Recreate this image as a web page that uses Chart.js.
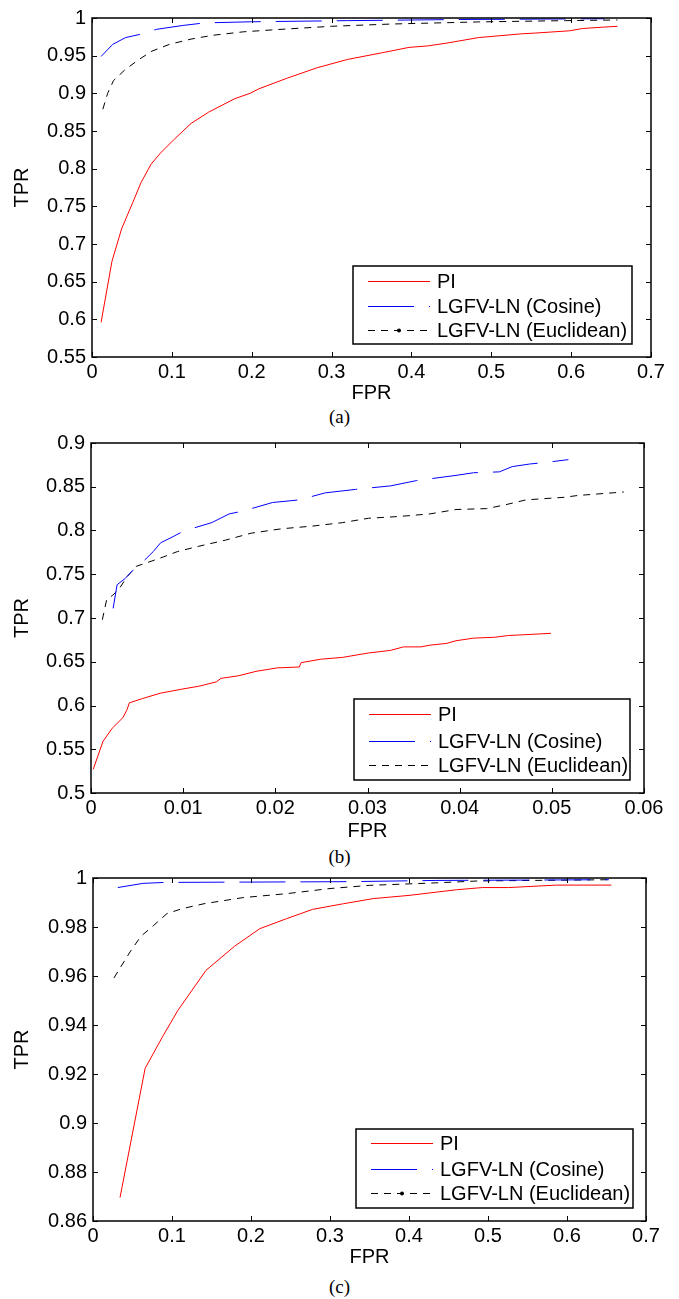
<!DOCTYPE html>
<html lang="en">
<head>
<meta charset="UTF-8">
<title>ROC curves (a) (b) (c)</title>
<script src="https://cdn.jsdelivr.net/npm/chart.js"></script>
<style>
  body { margin: 0; background: #fff; }
  .wrap { position: relative; width: 679px; height: 1299px; }
  .wrap canvas { position: absolute; left: 0; }
  .cap { position: absolute; left: 0; width: 679px; text-align: center;
         font-family: "Liberation Serif", "Times New Roman", serif; font-size: 19px; line-height: 21px; }
</style>
</head>
<body>
<div class="wrap">
  <canvas id="chartA" width="679" height="405" style="top:0px"></canvas>
  <div class="cap" style="top:406px">(a)</div>
  <canvas id="chartB" width="679" height="423" style="top:420px"></canvas>
  <div class="cap" style="top:846px">(b)</div>
  <canvas id="chartC" width="679" height="409" style="top:860px"></canvas>
  <div class="cap" style="top:1276px">(c)</div>
</div>
<script>
// ---- data ----
const labels = ["PI", "LGFV-LN (Cosine)", "LGFV-LN (Euclidean)"];

// (a)
const aPiX = [0.0114, 0.025, 0.037, 0.051, 0.0616, 0.074, 0.086, 0.102, 0.124, 0.146, 0.179, 0.198, 0.209, 0.244, 0.282, 0.320, 0.364, 0.397, 0.421, 0.446, 0.484, 0.538, 0.555, 0.598, 0.614, 0.642, 0.658];
const aPiY = [0.596, 0.677, 0.720, 0.755, 0.782, 0.806, 0.821, 0.838, 0.860, 0.875, 0.893, 0.900, 0.906, 0.920, 0.934, 0.945, 0.954, 0.961, 0.963, 0.967, 0.974, 0.979, 0.980, 0.983, 0.986, 0.988, 0.989];
const aCosX = [0.0114, 0.026, 0.042, 0.059, 0.081, 0.113, 0.141, 0.200, 0.320, 0.462, 0.636, 0.642];
const aCosY = [0.949, 0.965, 0.974, 0.978, 0.985, 0.990, 0.9935, 0.995, 0.9965, 0.998, 0.999, 0.999];
const aEucX = [0.0136, 0.0196, 0.027, 0.042, 0.059, 0.075, 0.097, 0.124, 0.151, 0.190, 0.233, 0.300, 0.375, 0.484, 0.593, 0.658];
const aEucY = [0.879, 0.900, 0.917, 0.932, 0.945, 0.956, 0.965, 0.972, 0.977, 0.9817, 0.9847, 0.989, 0.992, 0.9948, 0.9965, 0.9974];

// (b)
const bPiX = [0.00024, 0.0013, 0.0023, 0.00345, 0.0039, 0.00416, 0.0056, 0.0075, 0.0098, 0.0117, 0.0136, 0.0141, 0.016, 0.0179, 0.0202, 0.0226, 0.0228, 0.025, 0.0273, 0.0301, 0.0325, 0.0339, 0.0358, 0.0368, 0.0386, 0.0396, 0.0415, 0.0438, 0.0453, 0.0472, 0.0499];
const bPiY = [0.527, 0.559, 0.574, 0.586, 0.595, 0.603, 0.608, 0.614, 0.6186, 0.622, 0.627, 0.631, 0.634, 0.639, 0.643, 0.644, 0.649, 0.653, 0.655, 0.660, 0.663, 0.667, 0.667, 0.669, 0.671, 0.674, 0.677, 0.678, 0.680, 0.681, 0.6825];
const bCosX = [0.0024, 0.00283, 0.00369, 0.0044, 0.0058, 0.00676, 0.00756, 0.0089, 0.0098, 0.0112, 0.0131, 0.015, 0.0164, 0.0197, 0.0226, 0.0254, 0.0287, 0.0325, 0.0353, 0.0396, 0.0415, 0.0443, 0.0457, 0.0476, 0.0495, 0.0518];
const bCosY = [0.711, 0.738, 0.745, 0.753, 0.766, 0.776, 0.786, 0.793, 0.798, 0.803, 0.809, 0.819, 0.822, 0.832, 0.835, 0.843, 0.847, 0.851, 0.857, 0.863, 0.866, 0.867, 0.873, 0.876, 0.878, 0.881];
const bEucX = [0.00123, 0.0017, 0.00236, 0.0031, 0.0039, 0.0049, 0.0063, 0.0079, 0.0094, 0.0117, 0.0146, 0.0174, 0.0207, 0.024, 0.0273, 0.0301, 0.0334, 0.0368, 0.0396, 0.0429, 0.0448, 0.0472, 0.0514, 0.0528, 0.0578];
const bEucY = [0.698, 0.721, 0.726, 0.734, 0.747, 0.759, 0.764, 0.770, 0.776, 0.782, 0.789, 0.797, 0.802, 0.805, 0.809, 0.814, 0.816, 0.819, 0.824, 0.825, 0.829, 0.835, 0.838, 0.840, 0.844];

// (c)
const cPiX = [0.0342, 0.066, 0.088, 0.1075, 0.143, 0.179, 0.211, 0.245, 0.278, 0.317, 0.355, 0.400, 0.460, 0.493, 0.526, 0.587, 0.656];
const cPiY = [0.8696, 0.9223, 0.9352, 0.946, 0.9623, 0.9721, 0.9793, 0.9834, 0.9872, 0.9895, 0.9916, 0.9929, 0.9952, 0.9961, 0.9961, 0.9971, 0.9971];
const cCosX = [0.0314, 0.063, 0.091, 0.322, 0.433, 0.653];
const cCosY = [0.9961, 0.9978, 0.9982, 0.9985, 0.999, 0.9993];
const cEucX = [0.0265, 0.0468, 0.0606, 0.077, 0.0937, 0.113, 0.1405, 0.190, 0.245, 0.300, 0.350, 0.433, 0.488, 0.653];
const cEucY = [0.9592, 0.9698, 0.9762, 0.9807, 0.9855, 0.9875, 0.9895, 0.992, 0.9936, 0.9957, 0.997, 0.998, 0.9988, 0.9993];

const FONT = "'Liberation Sans', Arial, sans-serif";
const FS = 20;

function pts(xs, ys) {
    return xs.map((x, i) => ({ x: x, y: ys[i] }));
}

// box around the axes, with inward ticks on all four sides (matlab look)
const framePlugin = {
    id: "frame",
    afterDraw(chart) {
        const { ctx, chartArea: a, scales } = chart;
        const L = Math.round(a.left), R = Math.round(a.right), T = Math.round(a.top), B = Math.round(a.bottom);
        ctx.save();
        ctx.strokeStyle = "#000";
        ctx.lineWidth = 1;
        ctx.beginPath();
        scales.x.ticks.forEach(t => {
            const px = Math.round(scales.x.getPixelForValue(t.value)) + 0.5;
            ctx.moveTo(px, B); ctx.lineTo(px, B - 5);
            ctx.moveTo(px, T); ctx.lineTo(px, T + 5);
        });
        scales.y.ticks.forEach(t => {
            const py = Math.round(scales.y.getPixelForValue(t.value)) + 0.5;
            ctx.moveTo(L, py); ctx.lineTo(L + 5, py);
            ctx.moveTo(R, py); ctx.lineTo(R - 5, py);
        });
        ctx.stroke();
        ctx.lineWidth = 1.5;
        ctx.strokeRect(L, T, R - L, B - T);
        ctx.restore();
    }
};

// boxed legend in the lower right corner of the plot
const boxLegend = {
    id: "boxLegend",
    afterDraw(chart, args, opts) {
        const { ctx, chartArea: a } = chart;
        const x0 = Math.round(a.right - opts.right - opts.width);
        const y0 = Math.round(a.bottom - opts.bottom - opts.height);
        ctx.save();
        ctx.fillStyle = "#fff";
        ctx.fillRect(x0, y0, opts.width, opts.height);
        ctx.strokeStyle = "#000";
        ctx.lineWidth = 1.5;
        ctx.strokeRect(x0, y0, opts.width, opts.height);
        ctx.font = FS + "px " + FONT;
        ctx.textBaseline = "middle";
        chart.data.datasets.forEach((ds, i) => {
            const y = y0 + opts.rows[i] + 0.5;
            ctx.strokeStyle = ds.borderColor;
            ctx.lineWidth = ds.borderWidth;
            ctx.setLineDash(ds.borderDash || []);
            ctx.beginPath();
            ctx.moveTo(x0 + 15, y);
            ctx.lineTo(x0 + 77, y);
            ctx.stroke();
            ctx.setLineDash([]);
            if (opts.dot && i === 2) {
                ctx.fillStyle = "#000";
                ctx.beginPath();
                ctx.arc(x0 + 46, y, 2, 0, Math.PI * 2);
                ctx.fill();
            }
            ctx.fillStyle = "#000";
            ctx.fillText(ds.label, x0 + 84, y + 1);
        });
        ctx.restore();
    }
};

function makeChart(id, series, ax, lay) {
    const styles = [
        { borderColor: "#ff0000", borderDash: [] },
        { borderColor: "#0000ff", borderDash: [46, 15] },
        { borderColor: "#000000", borderDash: [7, 6] }
    ];
    return new Chart(document.getElementById(id), {
        type: "line",
        data: {
            datasets: series.map((s, i) => ({
                label: labels[i],
                data: s,
                borderColor: styles[i].borderColor,
                borderDash: styles[i].borderDash,
                borderWidth: 1,
                pointRadius: 0,
                tension: 0,
                fill: false
            }))
        },
        options: {
            responsive: false,
            animation: false,
            layout: { padding: { top: lay.top, right: lay.right, left: 0, bottom: 0 } },
            plugins: {
                legend: { display: false },
                tooltip: { enabled: false },
                boxLegend: lay.legend
            },
            scales: {
                x: {
                    type: "linear",
                    min: ax.xmin, max: ax.xmax,
                    grid: { display: false, drawTicks: false },
                    border: { display: false },
                    ticks: {
                        stepSize: ax.xstep, color: "#000", padding: 3,
                        font: { family: FONT, size: FS },
                        maxRotation: 0,
                        callback: v => String(+v.toFixed(4))
                    },
                    title: { display: true, text: "FPR", color: "#000", font: { family: FONT, size: FS }, padding: 0 },
                    afterFit: s => { s.height = lay.xh; }
                },
                y: {
                    min: ax.ymin, max: ax.ymax,
                    grid: { display: false, drawTicks: false },
                    border: { display: false },
                    ticks: {
                        stepSize: ax.ystep, color: "#000", padding: 6,
                        font: { family: FONT, size: FS },
                        callback: v => String(+v.toFixed(4))
                    },
                    title: { display: true, text: "TPR", color: "#000", font: { family: FONT, size: FS }, padding: { top: 10, bottom: 0 } },
                    afterFit: s => { s.width = lay.yw; }
                }
            }
        },
        plugins: [framePlugin, boxLegend]
    });
}

makeChart("chartA",
    [pts(aPiX, aPiY), pts(aCosX, aCosY), pts(aEucX, aEucY)],
    { xmin: 0, xmax: 0.7, xstep: 0.1, ymin: 0.55, ymax: 1, ystep: 0.05 },
    { top: 14, right: 28, xh: 48, yw: 92,
      legend: { width: 279, height: 78, right: 19, bottom: 13, rows: [15, 40, 64], dot: true } });

makeChart("chartB",
    [pts(bPiX, bPiY), pts(bCosX, bCosY), pts(bEucX, bEucY)],
    { xmin: 0, xmax: 0.06, xstep: 0.01, ymin: 0.5, ymax: 0.9, ystep: 0.05 },
    { top: 23, right: 35, xh: 50, yw: 91,
      legend: { width: 276, height: 81, right: 14, bottom: 13, rows: [15, 42, 66], dot: false } });

makeChart("chartC",
    [pts(cPiX, cPiY), pts(cCosX, cCosY), pts(cEucX, cEucY)],
    { xmin: 0, xmax: 0.7, xstep: 0.1, ymin: 0.86, ymax: 1, ystep: 0.02 },
    { top: 18, right: 33, xh: 48, yw: 93,
      legend: { width: 277, height: 79, right: 13, bottom: 13, rows: [14, 40, 64], dot: true } });
</script>
</body>
</html>
